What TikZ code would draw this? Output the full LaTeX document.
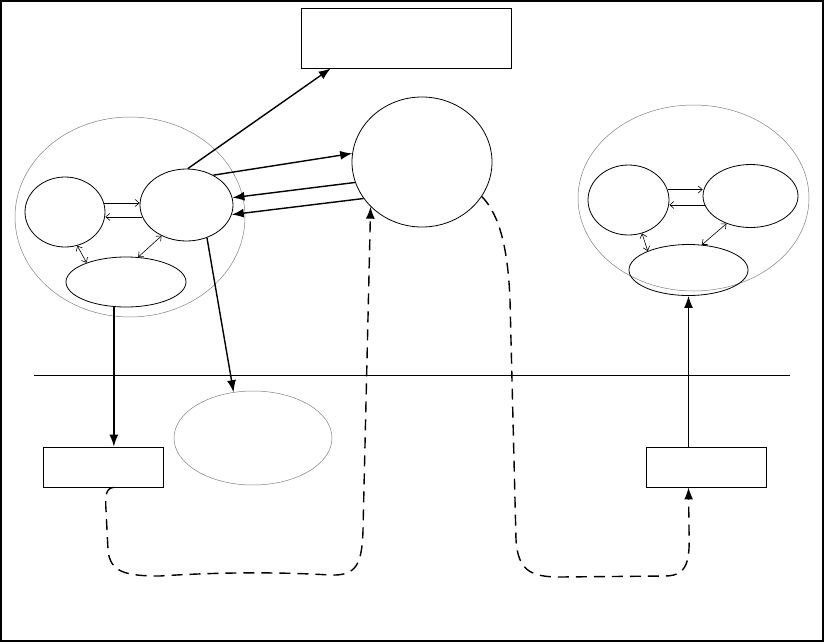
\documentclass[tikz,border=0pt]{standalone}
\usetikzlibrary{shapes.geometric,arrows.meta}

\begin{document}
\begin{tikzpicture}[x=1pt,y=-1pt,
  ring/.style={draw=gray,line width=0.5pt,ellipse,inner sep=0pt},
  blob/.style={draw,line width=0.8pt,ellipse,inner sep=0pt},
  box/.style={draw,line width=0.8pt,rectangle,inner sep=0pt},
  flow/.style={line width=1.4pt,-{Latex[length=12pt,width=9pt]}},
  dashflow/.style={line width=1.4pt,dash pattern=on 11pt off 7pt,-{Latex[length=12pt,width=9pt]}},
  link/.style={line width=0.6pt,-{Straight Barb[length=4pt,width=7pt]}},
  twolink/.style={line width=0.6pt,{Straight Barb[length=4pt,width=7pt]}-{Straight Barb[length=4pt,width=7pt]}}]
  \useasboundingbox (0,0) rectangle (825,643);
  \draw[line width=2pt] (1,1) rectangle (823,641);

  % left group
  \node[ring,minimum width=230pt,minimum height=200pt] (left) at (130,217) {};
  \node[blob,minimum width=80pt,minimum height=70pt] (la) at (65,212) {};
  \node[blob,minimum width=93pt,minimum height=72pt] (lb) at (186.5,205) {};
  \node[blob,minimum width=120pt,minimum height=50pt] (lc) at (126,282) {};
  \draw[link] (la.13) -- (la.13 -| lb.west);
  \draw[link] (lb.195) -- (lb.195 -| la.east);
  \draw[twolink] (la.-70) -- (lc.154);
  \draw[twolink] (lc.64) -- (lb.231);

  % right group
  \node[ring,minimum width=231pt,minimum height=186pt] (right) at (693.5,198) {};
  \node[blob,minimum width=81pt,minimum height=70pt] (ra) at (628.5,200) {};
  \node[blob,minimum width=95pt,minimum height=63pt] (rb) at (750.5,196) {};
  \node[blob,minimum width=119pt,minimum height=51pt] (rc) at (688.5,270) {};
  \draw[link] (ra.15) -- (ra.15 -| rb.west);
  \draw[link] (rb.191) -- (rb.191 -| ra.east);
  \draw[twolink] (ra.-68) -- (rc.155);
  \draw[twolink] (rc.62) -- (rb.229);

  % middle
  \node[box,minimum width=210pt,minimum height=60pt] (top) at (406,38) {};
  \node[blob,minimum width=140pt,minimum height=130pt] (hub) at (422,162) {};
  \node[ring,minimum width=158pt,minimum height=94pt] (store) at (253,438) {};

  % lower part
  \coordinate (sepl) at (34,375);
  \coordinate (sepr) at (790,375);
  \draw[line width=0.8pt] (sepl) -- (sepr);
  \node[box,minimum width=120pt,minimum height=40pt] (lbox) at (103,467) {};
  \node[box,minimum width=120pt,minimum height=40pt] (rbox) at (706,467) {};

  % solid arrows
  \draw[flow] (lb.88) -- (top.202);
  \draw[flow] (lb.48) -- (hub.173);
  \draw[flow] (hub.197) -- (lb.9);
  \draw[flow] (hub.212) -- (lb.-12);
  \draw[flow] (lb.-58) -- (store.113);
  \draw[flow] (lc.244) -- (lc.244 |- lbox.north);
  \draw[flow] (rbox.north -| rc.south) -- (rc.south);

  % dashed returns
  \draw[dashflow] (lc.244 |- lbox.south) .. controls (106,488) and (105,495) .. (106,510)
    -- (108,550) .. controls (110,572) and (125,576) .. (160,576)
    .. controls (220,572) and (280,572) .. (330,575)
    .. controls (356,576) and (362,565) .. (363,530) -- (hub.221);
  \draw[dashflow] (hub.-30) .. controls (500,215) and (508,250) .. (510,300)
    -- (516,540) .. controls (518,570) and (530,577) .. (560,577)
    -- (665,576) .. controls (688,576) and (690,560) .. (689,530)
    -- (rbox.south -| rc.south);
\end{tikzpicture}
\end{document}
